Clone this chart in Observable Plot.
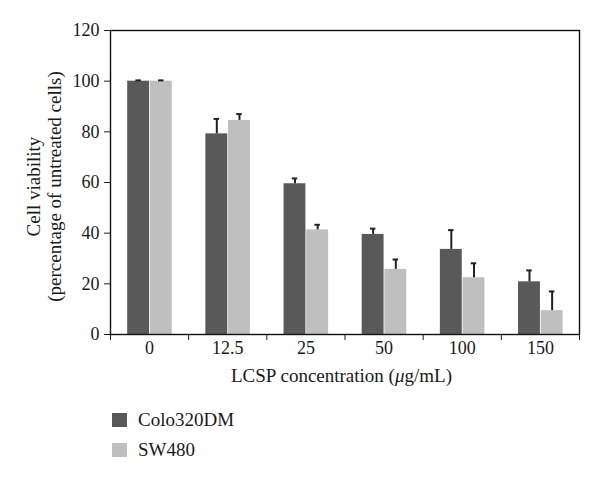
<!DOCTYPE html>
<html><head><meta charset="utf-8">
<script src="https://cdn.jsdelivr.net/npm/d3@7"></script>
<script src="https://cdn.jsdelivr.net/npm/@observablehq/plot@0.6"></script>
<style>
body{margin:0;background:#fff;}
#wrap{position:relative;width:600px;height:482px;font-family:"Liberation Serif",serif;color:#1a1a1a;overflow:hidden}
#wrap svg{position:absolute;left:0;top:0}
.xt{position:absolute;top:366px;left:341.5px;transform:translateX(-50%);font-size:19px;line-height:1;white-space:nowrap}
.lt{position:absolute;left:138px;font-size:19px;line-height:1;white-space:nowrap}
.sq{position:absolute;left:112px;width:15px;height:14px}
</style></head><body><div id="wrap"></div>
<script>
const concentrations = ["0", "12.5", "25", "50", "100", "150"];
const series = ["Colo320DM", "SW480"];
const colo = [100, 79.2, 59.5, 39.5, 33.6, 20.8];
const coloErr = [0.3, 5.9, 2.1, 2.3, 7.6, 4.5];
const sw = [100, 84.5, 41.3, 25.7, 22.4, 9.4];
const swErr = [0.3, 2.5, 2.0, 3.9, 5.7, 7.6];
const yTicks = [0, 20, 40, 60, 80, 100, 120];
const colors = ["#595959", "#bfbfbf"];
const yTitle = "Cell viability\n(percentage of untreated cells)";

// position of each series' bar inside a group (fraction of the group width)
const slot = {"Colo320DM": [0.22, 0.5], "SW480": [0.51, 0.79]};
const mid = s => (slot[s][0] + slot[s][1]) / 2;
const capHalf = 0.035;

const rows = concentrations.flatMap((c, i) => [
  {i, c, s: series[0], v: colo[i], e: coloErr[i]},
  {i, c, s: series[1], v: sw[i], e: swErr[i]}
]);

const chart = Plot.plot({
  width: 600, height: 364,
  marginLeft: 110, marginRight: 21, marginTop: 30, marginBottom: 30,
  style: {fontFamily: "'Liberation Serif', serif", fontSize: "18px", color: "#1a1a1a", background: "transparent"},
  x: {domain: [0, concentrations.length]},
  y: {domain: [0, 120]},
  color: {domain: series, range: colors},
  marks: [
    Plot.rectY(rows, {x1: d => d.i + slot[d.s][0], x2: d => d.i + slot[d.s][1], y1: 0, y2: "v", fill: "s"}),
    Plot.ruleX(rows, {x: d => d.i + mid(d.s), y1: "v", y2: d => d.v + d.e, stroke: "#222", strokeWidth: 2}),
    Plot.ruleY(rows, {y: d => d.v + d.e, x1: d => d.i + mid(d.s) - capHalf, x2: d => d.i + mid(d.s) + capHalf, stroke: "#222", strokeWidth: 2}),
    Plot.axisY({ticks: yTicks, tickSize: 6, tickPadding: 5, label: null, fontSize: 18}),
    Plot.axisX({ticks: d3.range(0, concentrations.length + 1), tickFormat: () => "", tickSize: 6, label: null}),
    Plot.axisX({ticks: concentrations.map((c, i) => i + 0.5), tickFormat: t => concentrations[Math.floor(t)], tickSize: 0, tickPadding: 7, label: null, fontSize: 18}),
    Plot.text([yTitle], {frameAnchor: "left", textAnchor: "middle", lineAnchor: "middle", rotate: -90, dx: -67, dy: 4, fontSize: 19, lineHeight: 1.1, fill: "#1a1a1a"}),
    Plot.frame({stroke: "#111", strokeWidth: 1.4})
  ]
});

const wrap = document.getElementById("wrap");
wrap.appendChild(chart);

const xt = document.createElement("div");
xt.className = "xt";
xt.innerHTML = "LCSP concentration (<i>μ</i>g/mL)";
wrap.appendChild(xt);

series.forEach((s, k) => {
  const sq = document.createElement("div");
  sq.className = "sq";
  sq.style.top = (413 + k * 30) + "px";
  sq.style.background = colors[k];
  wrap.appendChild(sq);
  const t = document.createElement("div");
  t.className = "lt";
  t.style.top = (410 + k * 30) + "px";
  t.textContent = s;
  wrap.appendChild(t);
});
</script></body></html>
